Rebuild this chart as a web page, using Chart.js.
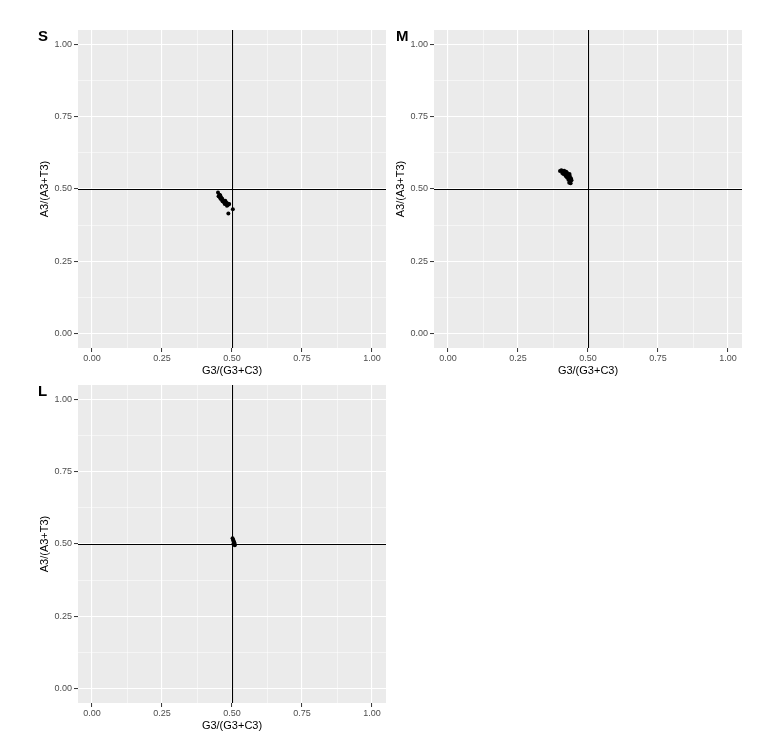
<!DOCTYPE html>
<html>
<head>
<meta charset="utf-8">
<script src="https://cdn.jsdelivr.net/npm/chart.js@4"></script>
<style>
  html, body { margin: 0; padding: 0; background: #ffffff; }
  #wrap { position: relative; width: 766px; height: 747px; overflow: hidden; }
  .panel { position: absolute; width: 390px; height: 385px; }
  .tag { position: absolute; font-family: "Liberation Sans", Arial, sans-serif; font-weight: bold; font-size: 15px; color: #000; }
</style>
</head>
<body>
<div id="wrap">
  <div class="panel" style="left:0;top:0"><canvas id="chartS" width="390" height="385"></canvas></div>
  <div class="panel" style="left:356px;top:0"><canvas id="chartM" width="390" height="385"></canvas></div>
  <div class="panel" style="left:0;top:355px"><canvas id="chartL" width="390" height="385"></canvas></div>
  <div class="tag" style="left:38px;top:27px">S</div>
  <div class="tag" style="left:396px;top:27px">M</div>
  <div class="tag" style="left:38px;top:382px">L</div>
</div>
<script>
const MAJOR_TICKS = [0, 0.25, 0.5, 0.75, 1];
const MINOR_TICKS = [0.125, 0.375, 0.625, 0.875];
const X_TITLE = "G3/(G3+C3)";
const Y_TITLE = "A3/(A3+T3)";
const REF_X = 0.5;
const REF_Y = 0.5;

// S panel
const S_X = [0.450, 0.455, 0.452, 0.458, 0.462, 0.460, 0.465, 0.468, 0.470, 0.472,
             0.475, 0.478, 0.480, 0.483, 0.485, 0.488, 0.482, 0.490, 0.487, 0.503,
             0.457, 0.466, 0.474, 0.481, 0.476];
const S_Y = [0.488, 0.480, 0.475, 0.478, 0.470, 0.465, 0.466, 0.460, 0.455, 0.458,
             0.452, 0.454, 0.448, 0.450, 0.445, 0.447, 0.442, 0.448, 0.415, 0.430,
             0.470, 0.458, 0.448, 0.452, 0.459];

// M panel
const M_X = [0.400, 0.405, 0.410, 0.415, 0.420, 0.408, 0.418, 0.425, 0.428, 0.420,
             0.430, 0.432, 0.425, 0.435, 0.438, 0.430, 0.436, 0.440, 0.433, 0.438,
             0.412, 0.422, 0.427, 0.434, 0.441];
const M_Y = [0.562, 0.565, 0.560, 0.563, 0.558, 0.555, 0.552, 0.556, 0.550, 0.545,
             0.548, 0.542, 0.540, 0.545, 0.538, 0.532, 0.528, 0.535, 0.522, 0.520,
             0.552, 0.560, 0.544, 0.552, 0.530];

// L panel
const L_X = [0.502, 0.504, 0.505, 0.506, 0.508, 0.505, 0.507, 0.509, 0.510];
const L_Y = [0.520, 0.515, 0.512, 0.508, 0.505, 0.500, 0.498, 0.502, 0.496];

const PANEL_BG = "#EBEBEB";
const TICK_TEXT = "#4D4D4D";
const FONT = "'Liberation Sans', Arial, sans-serif";

const ALL_TICKS = MAJOR_TICKS.concat(MINOR_TICKS).sort((a, b) => a - b);

function isMajor(v) {
  return MAJOR_TICKS.some((t) => Math.abs(t - v) < 1e-9);
}

const panelPlugin = {
  id: "panel",
  beforeDraw(chart) {
    const { ctx, chartArea: a } = chart;
    ctx.save();
    ctx.fillStyle = PANEL_BG;
    ctx.fillRect(a.left, a.top, a.right - a.left, a.bottom - a.top);
    ctx.restore();
  },
  beforeDatasetsDraw(chart) {
    const { ctx, chartArea: a, scales } = chart;
    const px = Math.round(scales.x.getPixelForValue(REF_X)) + 0.5;
    const py = Math.round(scales.y.getPixelForValue(REF_Y)) + 0.5;
    ctx.save();
    ctx.strokeStyle = "#000000";
    ctx.lineWidth = 1.1;
    ctx.beginPath();
    ctx.moveTo(px, a.top);
    ctx.lineTo(px, a.bottom);
    ctx.moveTo(a.left, py);
    ctx.lineTo(a.right, py);
    ctx.stroke();
    ctx.restore();
  },
};

function axis(isX) {
  return {
    type: "linear",
    min: -0.05,
    max: 1.05,
    afterBuildTicks(scale) {
      scale.ticks = ALL_TICKS.map((v) => ({ value: v }));
    },
    afterFit(scale) {
      if (isX) scale.height = 37;
      else scale.width = 78;
    },
    border: { display: false },
    grid: {
      color: "#FFFFFF",
      lineWidth: (c) => (isMajor(c.tick.value) ? 1.1 : 0.5),
      tickColor: (c) => (isMajor(c.tick.value) ? "#333333" : "rgba(0,0,0,0)"),
      tickLength: 4,
      tickWidth: 1,
    },
    ticks: {
      autoSkip: false,
      maxRotation: 0,
      padding: isX ? 1 : 2,
      color: TICK_TEXT,
      font: { family: FONT, size: 9 },
      callback: (v) => (isMajor(v) ? Number(v).toFixed(2) : ""),
    },
    title: {
      display: true,
      text: isX ? X_TITLE : Y_TITLE,
      color: "#000000",
      font: { family: FONT, size: 11 },
      padding: isX ? { top: 0, bottom: 7 } : { top: 38, bottom: 0 },
    },
  };
}

function drawPanel(id, xs, ys) {
  const points = xs.map((x, i) => ({ x, y: ys[i] }));
  new Chart(document.getElementById(id), {
    type: "scatter",
    data: {
      datasets: [{
        data: points,
        backgroundColor: "#000000",
        borderWidth: 0,
        pointRadius: 2,
      }],
    },
    options: {
      responsive: false,
      animation: false,
      layout: { padding: { left: 0, right: 4, top: 30, bottom: 0 } },
      scales: { x: axis(true), y: axis(false) },
      plugins: { legend: { display: false }, tooltip: { enabled: false } },
    },
    plugins: [panelPlugin],
  });
}

drawPanel("chartS", S_X, S_Y);
drawPanel("chartM", M_X, M_Y);
drawPanel("chartL", L_X, L_Y);
</script>
</body>
</html>
